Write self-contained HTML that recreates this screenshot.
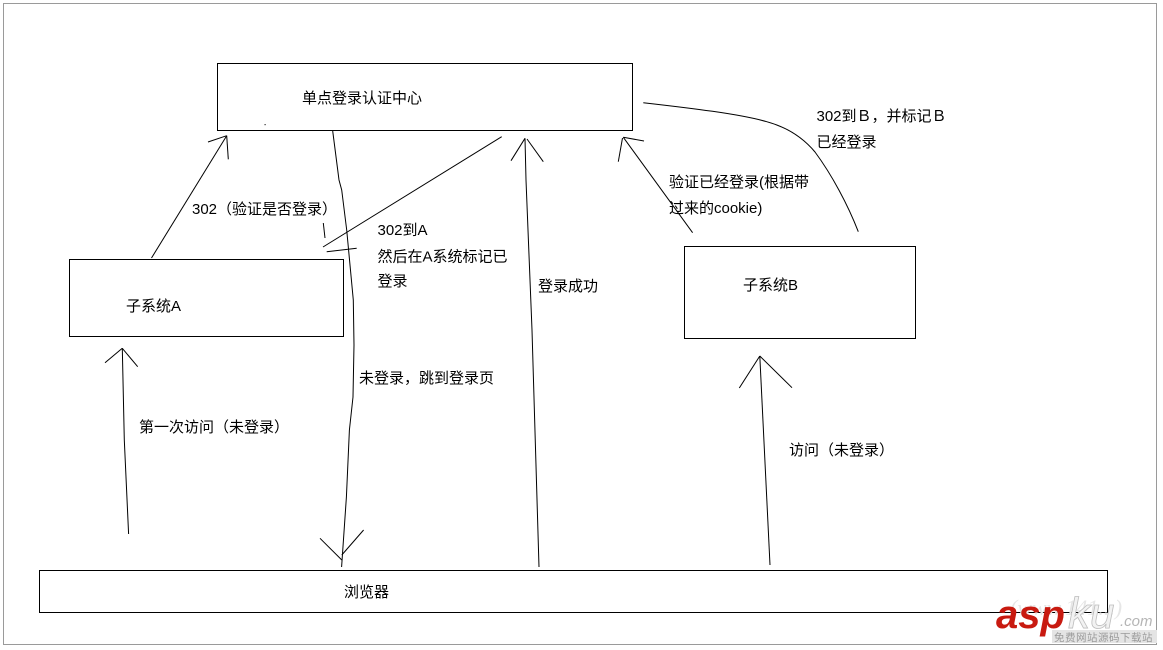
<!DOCTYPE html>
<html>
<head>
<meta charset="utf-8">
<style>
  html, body { margin: 0; padding: 0; background: #fff; }
  svg { display: block; }
  .t { font-family: "Liberation Sans", "Noto Sans CJK SC", "WenQuanYi Zen Hei", sans-serif; font-size: 15px; fill: #000; }
</style>
</head>
<body>
<svg width="1163" height="650" viewBox="0 0 1163 650" xmlns="http://www.w3.org/2000/svg">
  <rect x="0" y="0" width="1163" height="650" fill="#fff"/>
  <!-- outer frame -->
  <rect x="3.5" y="3.5" width="1153" height="641" fill="none" stroke="#9a9a9a" stroke-width="1"/>

  <g fill="none" stroke="#000" stroke-width="1">
    <!-- boxes -->
    <rect x="217.5" y="63.5" width="415" height="67"/>
    <rect x="69.5" y="259.5" width="274" height="77"/>
    <rect x="684.5" y="246.5" width="231" height="92"/>
    <rect x="39.5" y="570.5" width="1068" height="42"/>

    <!-- 302 (验证是否登录): 子系统A -> center -->
    <line x1="151.5" y1="258" x2="226.7" y2="135.7"/>
    <line x1="208" y1="142" x2="226.7" y2="135.7"/>
    <line x1="226.7" y1="135.7" x2="228.3" y2="159.3"/>

    <!-- 未登录，跳到登录页: center -> browser -->
    <polyline points="332.7,131 339,180 341.7,190 346.7,230 353.3,300 354,345 353,397 349.4,430 346.4,497 341.6,567"/>
    <line x1="320" y1="538.3" x2="341.8" y2="560"/>
    <line x1="363.6" y1="530" x2="341.8" y2="555"/>

    <!-- 302到A -->
    <line x1="501.7" y1="136.7" x2="323" y2="247"/>
    <line x1="323.3" y1="223" x2="325" y2="238"/>
    <line x1="326.7" y1="251.7" x2="356.7" y2="248.3"/>

    <!-- 登录成功: browser -> center -->
    <polyline points="539,567 532,330 526,180 525,138.3"/>
    <line x1="511" y1="160.7" x2="525" y2="138.3"/>
    <line x1="527" y1="139" x2="543.3" y2="161.7"/>

    <!-- 验证已经登录: 子系统B -> center -->
    <line x1="692.6" y1="232.7" x2="623.3" y2="137.3"/>
    <line x1="623.3" y1="137.3" x2="644" y2="141"/>
    <line x1="622.5" y1="138" x2="618.3" y2="161.7"/>

    <!-- 302到B curve -->
    <path d="M643.3,102.7 C690,108 740,114 766.7,121.7 C790,128 805,140 815,152 C832,175 848,205 858.3,231.7"/>

    <!-- 第一次访问 -->
    <polyline points="128.6,534 124.3,440 122.3,348.3"/>
    <line x1="105" y1="362.7" x2="122.3" y2="348.3"/>
    <line x1="122.3" y1="348.3" x2="137.7" y2="366.7"/>

    <!-- 访问（未登录） -->
    <line x1="770" y1="565" x2="759.8" y2="356"/>
    <line x1="739.3" y1="388" x2="759.8" y2="356"/>
    <line x1="759.8" y1="356" x2="792" y2="387.7"/>
  </g>

  <!-- tiny dot -->
  <rect x="264.5" y="124" width="1.2" height="1.2" fill="#333"/>

  <!-- labels -->
  <text class="t" x="302" y="103">单点登录认证中心</text>
  <text class="t" x="126" y="311">子系统A</text>
  <text class="t" x="743" y="290">子系统B</text>
  <text class="t" x="344" y="597">浏览器</text>

  <text class="t" x="192" y="214">302（验证是否登录）</text>
  <text class="t" x="377.5" y="235">302到A</text>
  <text class="t" x="377.5" y="261.5">然后在A系统标记已</text>
  <text class="t" x="377.5" y="286">登录</text>
  <text class="t" x="359" y="383">未登录，跳到登录页</text>
  <text class="t" x="538" y="291">登录成功</text>
  <text class="t" x="669" y="187">验证已经登录(根据带</text>
  <text class="t" x="669" y="213">过来的cookie)</text>
  <text class="t" x="816.5" y="121">302到Ｂ，并标记Ｂ</text>
  <text class="t" x="816.5" y="147">已经登录</text>
  <text class="t" x="139" y="432">第一次访问（未登录）</text>
  <text class="t" x="789" y="455">访问（未登录）</text>

  <!-- watermark -->
  <g>
    <text x="1010" y="615" font-family="Liberation Serif, serif" font-style="italic" font-size="22" fill="#e6e6e6">(www.141...)</text>
    <text x="996" y="628" font-family="Liberation Sans, sans-serif" font-weight="bold" font-style="italic" font-size="40" fill="#c81a10">asp</text>
    <text x="1068" y="628" font-family="Liberation Sans, sans-serif" font-style="italic" font-size="44" fill="#f2f2f2" stroke="#bdbdbd" stroke-width="0.8">ku</text>
    <text x="1120" y="626" font-family="Liberation Sans, sans-serif" font-style="italic" font-size="15" fill="#b5b5b5">.com</text>
    <rect x="1052" y="630" width="105" height="13" fill="#e4e4e4"/>
    <text x="1054" y="641" font-family="Noto Sans CJK SC, sans-serif" font-size="10.5" fill="#9a9a9a" letter-spacing="0.5">免费网站源码下载站</text>
  </g>
</svg>
</body>
</html>
